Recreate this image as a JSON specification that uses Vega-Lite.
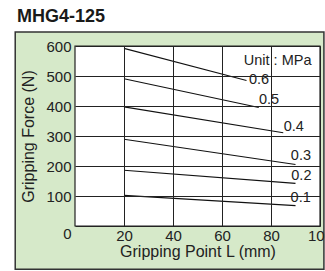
{
  "$schema": "https://vega.github.io/schema/vega-lite/v6.json",
  "width": 245,
  "height": 180,
  "autosize": "none",
  "padding": {"left": 75, "top": 46, "right": 5, "bottom": 45},
  "background": "white",
  "config": {"view": {"stroke": null}, "font": "Liberation Sans"},
  "title": {"text": "MHG4-125", "anchor": "start", "frame": "group", "fontSize": 18, "fontWeight": "bold", "font": "Liberation Sans", "color": "#1a1a1a", "dx": -58, "dy": 19, "baseline": "alphabetic", "offset": 10},
  "datasets": {
    "curves": [
      {"pressure": "0.6", "L": 20, "force": 592},
      {"pressure": "0.6", "L": 70, "force": 485},
      {"pressure": "0.5", "L": 20, "force": 491},
      {"pressure": "0.5", "L": 75, "force": 395},
      {"pressure": "0.4", "L": 20, "force": 397},
      {"pressure": "0.4", "L": 85, "force": 311},
      {"pressure": "0.3", "L": 20, "force": 289},
      {"pressure": "0.3", "L": 90, "force": 205},
      {"pressure": "0.2", "L": 20, "force": 186},
      {"pressure": "0.2", "L": 90, "force": 142},
      {"pressure": "0.1", "L": 20, "force": 102},
      {"pressure": "0.1", "L": 90, "force": 68}
    ],
    "labels": [
      {"text": "0.6", "L": 75.1, "force": 488},
      {"text": "0.5", "L": 79.2, "force": 421},
      {"text": "0.4", "L": 89.3, "force": 330},
      {"text": "0.3", "L": 92.2, "force": 233},
      {"text": "0.2", "L": 92.4, "force": 167},
      {"text": "0.1", "L": 92.1, "force": 95},
      {"text": "Unit : MPa", "L": 82.7, "force": 549}
    ]
  },
  "layer": [
    {
      "data": {"values": [{}]},
      "mark": {"type": "rect", "fill": "#d6e9c9", "stroke": "#333333", "strokeWidth": 1.5},
      "encoding": {
        "x": {"datum": -24.4, "type": "quantitative", "title": "Gripping Point L (mm)",
          "scale": {"domain": [0, 100], "nice": false, "zero": false}},
        "x2": {"datum": 101.6},
        "y": {"datum": 646.7, "type": "quantitative", "title": "Gripping Force (N)",
          "scale": {"domain": [0, 600], "nice": false, "zero": false}},
        "y2": {"datum": -144.3}
      }
    },
    {
      "data": {"values": [{}]},
      "mark": {"type": "rect", "fill": "white", "stroke": "#222222", "strokeWidth": 1.2},
      "encoding": {
        "x": {"datum": 0, "type": "quantitative", "title": "Gripping Point L (mm)"},
        "x2": {"datum": 100},
        "y": {"datum": 0, "type": "quantitative", "title": "Gripping Force (N)"},
        "y2": {"datum": 600}
      }
    },
    {
      "data": {"name": "curves"},
      "mark": {"type": "line", "color": "#111111", "strokeWidth": 1.1},
      "encoding": {
        "x": {"field": "L", "type": "quantitative", "title": "Gripping Point L (mm)",
          "axis": {"values": [20, 40, 60, 80, 100], "tickCount": 10, "grid": true, "gridColor": "#222222", "gridWidth": 1, "ticks": false, "domain": false,
            "labelFontSize": 15, "labelColor": "#222222", "labelPadding": 2, "labelFlush": false, "labelOverlap": false,
            "titleFontSize": 16, "titleFontWeight": "normal", "titleColor": "#222222", "titlePadding": 0, "zindex": 1}},
        "y": {"field": "force", "type": "quantitative", "title": "Gripping Force (N)",
          "axis": {"values": [0, 100, 200, 300, 400, 500, 600], "tickCount": 10, "grid": true, "gridColor": "#222222", "gridWidth": 1, "ticks": false, "domain": false,
            "labelFontSize": 15, "labelColor": "#222222", "labelPadding": 4, "labelFlush": false, "labelOverlap": false,
            "labelBaseline": {"condition": {"test": "datum.value == 0", "value": "top"}, "value": "middle"},
            "titleFontSize": 16, "titleFontWeight": "normal", "titleColor": "#222222", "titlePadding": 9, "zindex": 1}},
        "detail": {"field": "pressure"}
      }
    },
    {
      "data": {"name": "labels"},
      "mark": {"type": "text", "fontSize": 14.5, "color": "#222222", "align": "center", "baseline": "middle"},
      "encoding": {
        "x": {"field": "L", "type": "quantitative", "title": "Gripping Point L (mm)"},
        "y": {"field": "force", "type": "quantitative", "title": "Gripping Force (N)"},
        "text": {"field": "text"}
      }
    }
  ]
}
